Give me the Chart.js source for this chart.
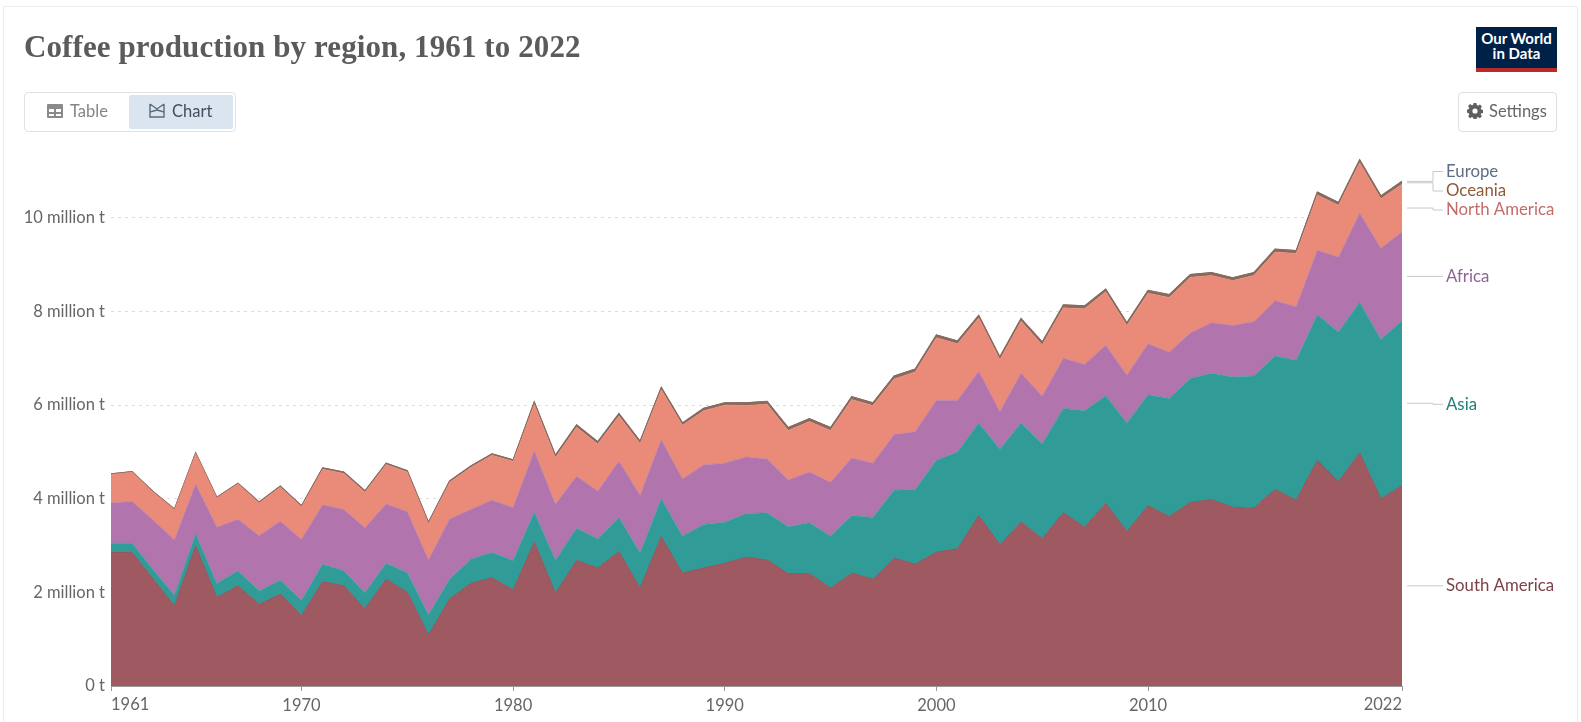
<!DOCTYPE html>
<html>
<head>
<meta charset="utf-8">
<title>Coffee production by region</title>
<script src="https://cdn.jsdelivr.net/npm/chart.js@4"></script>
<style>
  html, body { margin: 0; padding: 0; background: #fff; width: 1581px; height: 722px; overflow: hidden; font-family: Lato, sans-serif; }
  #frame { position: absolute; left: 3px; top: 6px; width: 1573px; height: 730px; border: 1px solid #ececec; border-radius: 2px; }
  #chart-wrap { position: absolute; left: 0; top: 0; width: 1581px; height: 722px; }
  h1 { position: absolute; left: 24px; top: 29px; margin: 0; font: bold 31px "Liberation Serif", serif; color: #5b5b5b; letter-spacing: 0.1px; white-space: nowrap; }
  #logo { position: absolute; left: 1476px; top: 27px; width: 81px; padding-top: 4px; height: 37px; background: #002147; border-bottom: 4px solid #b92b2b; color: #fff; font: bold 15px/15px Lato, sans-serif; text-align: center; }
  #tabs { position: absolute; left: 24px; top: 92px; width: 210px; height: 38px; border: 1px solid #dfe3e8; border-radius: 4px; }
  .tab { position: absolute; top: 2px; height: 34px; line-height: 33px; font-size: 16.5px; }
  .tab svg, #settings svg { position: absolute; top: 9px; left: 0; }
  #tab-table { left: 45px; color: #858585; width: 62px; }
  #tab-chart { left: 104px; width: 104px; background: #dbe5f0; color: #3f4f60; border-radius: 2px; }
  #settings { position: absolute; left: 1458px; top: 92px; width: 97px; height: 38px; border: 1px solid #dfdfdf; border-radius: 4px; line-height: 36px; font-size: 16.5px; color: #666; }
</style>
</head>
<body>
<div id="frame"></div>
<div id="chart-wrap"><canvas id="chart" width="1581" height="722"></canvas></div>
<h1>Coffee production by region, 1961 to 2022</h1>
<div id="logo">Our World<br>in Data</div>
<div id="tabs">
  <div class="tab" id="tab-table">
    <svg width="16" height="14" viewBox="0 0 16 14" style="left:-23px;top:9px"><path fill="#8a8a8a" d="M1 0h14a1 1 0 0 1 1 1v12a1 1 0 0 1-1 1H1a1 1 0 0 1-1-1V1a1 1 0 0 1 1-1zm1 5v3h5V5H2zm7 0v3h5V5H9zm-7 5v2h5v-2H2zm7 0v2h5v-2H9z"/></svg>
    Table
  </div>
  <div class="tab" id="tab-chart">
    <svg width="16" height="15" viewBox="0 0 16 15" style="left:20px;top:8px"><path fill="none" stroke="#5a6b7d" stroke-width="1.4" d="M1 1l7 5 7-5M1 1v13h14V1M1 9l7-2 7 2"/></svg>
    <span style="position:absolute;left:43px">Chart</span>
  </div>
</div>
<div id="settings">
  <svg width="16" height="16" viewBox="0 0 16 16" style="left:8px;top:10px"><path fill="#5f5f5f" fill-rule="evenodd" d="M6.6 0h2.8l.4 2.1 1.3.6 1.8-1.2 2 2-1.2 1.8.6 1.3 2.1.4v2.8l-2.1.4-.6 1.3 1.2 1.8-2 2-1.8-1.2-1.3.6-.4 2.1H6.6l-.4-2.1-1.3-.6-1.8 1.2-2-2 1.2-1.8-.6-1.3L-.4 9.4V6.6l2.1-.4.6-1.3L1.1 3.1l2-2 1.8 1.2 1.3-.6L6.6 0zM8 5.4a2.6 2.6 0 1 0 0 5.2 2.6 2.6 0 0 0 0-5.2z"/></svg>
  <span style="position:absolute;left:30px">Settings</span>
</div>
<script>
const years = [1961, 1962, 1963, 1964, 1965, 1966, 1967, 1968, 1969, 1970,
    1971, 1972, 1973, 1974, 1975, 1976, 1977, 1978, 1979, 1980,
    1981, 1982, 1983, 1984, 1985, 1986, 1987, 1988, 1989, 1990,
    1991, 1992, 1993, 1994, 1995, 1996, 1997, 1998, 1999, 2000,
    2001, 2002, 2003, 2004, 2005, 2006, 2007, 2008, 2009, 2010,
    2011, 2012, 2013, 2014, 2015, 2016, 2017, 2018, 2019, 2020, 2021, 2022];

// million tonnes
const southAmerica = [2.85, 2.85, 2.28, 1.71, 2.99, 1.89, 2.14, 1.74, 1.96, 1.50,
    2.23, 2.14, 1.65, 2.28, 2.00, 1.09, 1.86, 2.19, 2.31, 2.05,
    3.07, 1.98, 2.68, 2.52, 2.87, 2.09, 3.19, 2.41, 2.52, 2.62,
    2.75, 2.69, 2.40, 2.40, 2.09, 2.41, 2.28, 2.73, 2.60, 2.86,
    2.93, 3.64, 3.02, 3.50, 3.15, 3.70, 3.39, 3.90, 3.30, 3.85,
    3.62, 3.92, 3.98, 3.82, 3.80, 4.20, 3.97, 4.82, 4.37, 4.98, 4.00, 4.28];
const asia = [0.20, 0.20, 0.20, 0.23, 0.26, 0.30, 0.32, 0.29, 0.30, 0.33,
    0.37, 0.32, 0.34, 0.34, 0.42, 0.43, 0.42, 0.52, 0.54, 0.63,
    0.64, 0.70, 0.69, 0.62, 0.73, 0.75, 0.81, 0.79, 0.93, 0.88,
    0.93, 1.01, 1.00, 1.09, 1.11, 1.23, 1.32, 1.45, 1.60, 1.96,
    2.07, 1.98, 2.04, 2.12, 2.02, 2.23, 2.49, 2.30, 2.32, 2.37,
    2.52, 2.65, 2.70, 2.78, 2.82, 2.85, 2.99, 3.11, 3.19, 3.22, 3.40, 3.52];
const africa = [0.86, 0.89, 1.06, 1.18, 1.06, 1.20, 1.10, 1.18, 1.26, 1.30,
    1.27, 1.31, 1.39, 1.27, 1.30, 1.17, 1.29, 1.06, 1.12, 1.13,
    1.31, 1.20, 1.11, 1.02, 1.20, 1.23, 1.26, 1.22, 1.27, 1.26,
    1.21, 1.15, 1.00, 1.08, 1.15, 1.23, 1.16, 1.19, 1.23, 1.28,
    1.10, 1.10, 0.80, 1.06, 1.02, 1.07, 0.99, 1.08, 1.02, 1.09,
    0.99, 0.97, 1.08, 1.10, 1.16, 1.18, 1.14, 1.38, 1.60, 1.90, 1.95, 1.90];
const northAmerica = [0.61, 0.63, 0.60, 0.65, 0.66, 0.63, 0.76, 0.70, 0.73, 0.70,
    0.76, 0.77, 0.76, 0.84, 0.85, 0.78, 0.78, 0.90, 0.96, 0.99,
    1.00, 1.00, 1.05, 1.01, 0.97, 1.11, 1.07, 1.15, 1.16, 1.24,
    1.10, 1.17, 1.06, 1.08, 1.11, 1.25, 1.23, 1.19, 1.28, 1.34,
    1.21, 1.14, 1.11, 1.11, 1.10, 1.08, 1.19, 1.14, 1.06, 1.08,
    1.17, 1.19, 1.01, 0.96, 0.99, 1.04, 1.14, 1.18, 1.11, 1.08, 1.06, 1.02];
const oceania = [0.01, 0.01, 0.01, 0.01, 0.01, 0.01, 0.01, 0.02, 0.02, 0.02,
    0.03, 0.03, 0.03, 0.03, 0.03, 0.03, 0.03, 0.03, 0.03, 0.03,
    0.05, 0.05, 0.05, 0.05, 0.05, 0.05, 0.05, 0.05, 0.05, 0.05,
    0.06, 0.06, 0.06, 0.06, 0.06, 0.06, 0.06, 0.06, 0.06, 0.06,
    0.06, 0.06, 0.06, 0.06, 0.06, 0.06, 0.06, 0.06, 0.06, 0.06,
    0.06, 0.06, 0.06, 0.06, 0.06, 0.06, 0.06, 0.06, 0.06, 0.06, 0.06, 0.06];
const europe = [0, 0, 0, 0, 0, 0, 0, 0, 0, 0, 0, 0, 0, 0, 0, 0, 0, 0, 0, 0, 0,
    0, 0, 0, 0, 0, 0, 0, 0, 0, 0, 0, 0, 0, 0, 0, 0, 0, 0, 0, 0,
    0, 0, 0, 0, 0, 0, 0, 0, 0, 0, 0, 0, 0, 0, 0, 0, 0, 0, 0, 0, 0];

const xTicks = [1961, 1970, 1980, 1990, 2000, 2010, 2022];
const yTicks = [0, 2, 4, 6, 8, 10];

const band = (label, data, fill, line, target, width) => ({
    label, data,
    backgroundColor: fill,
    borderColor: line,
    borderWidth: width,
    pointRadius: 0,
    tension: 0,
    fill: target,
});

const TICK_FONT = { family: "Lato", size: 16.5 };
const TICK_COLOR = "#666";

// the 1961 and 2022 tick labels hug the plot edges, Chart.js only has one align per axis
const edgeLabels = {
    id: "edgeLabels",
    afterDraw(chart) {
        const { ctx, scales } = chart;
        ctx.save();
        ctx.font = "16.5px Lato";
        ctx.fillStyle = TICK_COLOR;
        ctx.textBaseline = "top";
        ctx.textAlign = "left";
        ctx.fillText(String(xTicks[0]), scales.x.getPixelForValue(xTicks[0]), 696);
        ctx.textAlign = "right";
        ctx.fillText(String(xTicks[xTicks.length - 1]), scales.x.getPixelForValue(xTicks[xTicks.length - 1]), 696);
        ctx.restore();
    },
};

// labels to the right of the plot, with the thin connector lines
const sideLabels = {
    id: "sideLabels",
    afterDraw(chart) {
        const { ctx, scales, chartArea } = chart;
        const last = years.length - 1;
        const y = (v) => scales.y.getPixelForValue(v);
        const sa = southAmerica[last], as = asia[last], af = africa[last], na = northAmerica[last], oc = oceania[last];
        const labels = [
            { text: "South America", color: "#7c3f46", from: y(sa / 2), to: y(sa / 2) },
            { text: "Asia", color: "#1f7f7a", from: y(sa + as / 2), to: y(sa + as / 2) + 1 },
            { text: "Africa", color: "#8f6297", from: y(sa + as + af / 2), to: y(sa + as + af / 2) },
            { text: "North America", color: "#c46b6b", from: y(sa + as + af + na / 2), to: 210 },
            { text: "Oceania", color: "#8f5a38", from: y(sa + as + af + na + oc / 2), to: 191 },
            { text: "Europe", color: "#5e6d85", from: y(sa + as + af + na + oc), to: 171.5 },
        ];
        const x0 = chartArea.right + 5, x1 = x0 + 36, mid = x0 + 26;
        ctx.save();
        ctx.font = "16.8px Lato";
        ctx.textBaseline = "middle";
        ctx.textAlign = "left";
        labels.forEach((l) => {
            ctx.strokeStyle = "#c8c8c8";
            ctx.lineWidth = 1;
            ctx.beginPath();
            ctx.moveTo(x0, l.from);
            ctx.lineTo(mid, l.from);
            ctx.lineTo(mid, l.to);
            ctx.lineTo(x1, l.to);
            ctx.stroke();
            ctx.fillStyle = l.color;
            ctx.fillText(l.text, x1 + 3, l.to);
        });
        ctx.restore();
    },
};

new Chart(document.getElementById("chart"), {
    type: "line",
    data: {
        labels: years,
        datasets: [
            band("South America", southAmerica, "#9f5a61", "#96515a", "origin", 1),
            band("Asia", asia, "#319b97", "#319b97", "-1", 0.5),
            band("Africa", africa, "#b174ad", "#b174ad", "-1", 0.5),
            band("North America", northAmerica, "#ea8a78", "#ea8a78", "-1", 0.5),
            band("Oceania", oceania, "#8a6a5c", "#8a6a5c", "-1", 1),
            band("Europe", europe, "#7d6a62", "#7d6a62", "-1", 1.2),
        ],
    },
    options: {
        responsive: false,
        animation: false,
        layout: { padding: { top: 150, right: 179, left: 0, bottom: 0 } },
        plugins: { legend: { display: false }, title: { display: false }, tooltip: { enabled: false } },
        scales: {
            x: {
                type: "linear",
                min: 1961,
                max: 2022,
                afterBuildTicks: (s) => { s.ticks = xTicks.map((value) => ({ value })); },
                afterFit: (s) => { s.height = 36; },
                border: { display: true, color: "#999" },
                grid: { drawOnChartArea: false, drawTicks: true, tickLength: 5, color: "#999" },
                ticks: {
                    autoSkip: false,
                    maxRotation: 0,
                    padding: 5,
                    font: TICK_FONT,
                    color: TICK_COLOR,
                    callback: (v) => (v === xTicks[0] || v === xTicks[xTicks.length - 1] ? "" : String(v)),
                },
            },
            y: {
                stacked: true,
                min: 0,
                max: 11.45,
                afterBuildTicks: (s) => { s.ticks = yTicks.map((value) => ({ value })); },
                afterFit: (s) => { s.width = 111; },
                border: { display: false, dash: [3, 4] },
                grid: { color: "#dddddd", drawTicks: false, lineWidth: 1 },
                ticks: {
                    padding: 6,
                    font: TICK_FONT,
                    color: TICK_COLOR,
                    callback: (v) => (v === 0 ? "0 t" : v + " million t"),
                },
            },
        },
    },
    plugins: [edgeLabels, sideLabels],
});
</script>
</body>
</html>
